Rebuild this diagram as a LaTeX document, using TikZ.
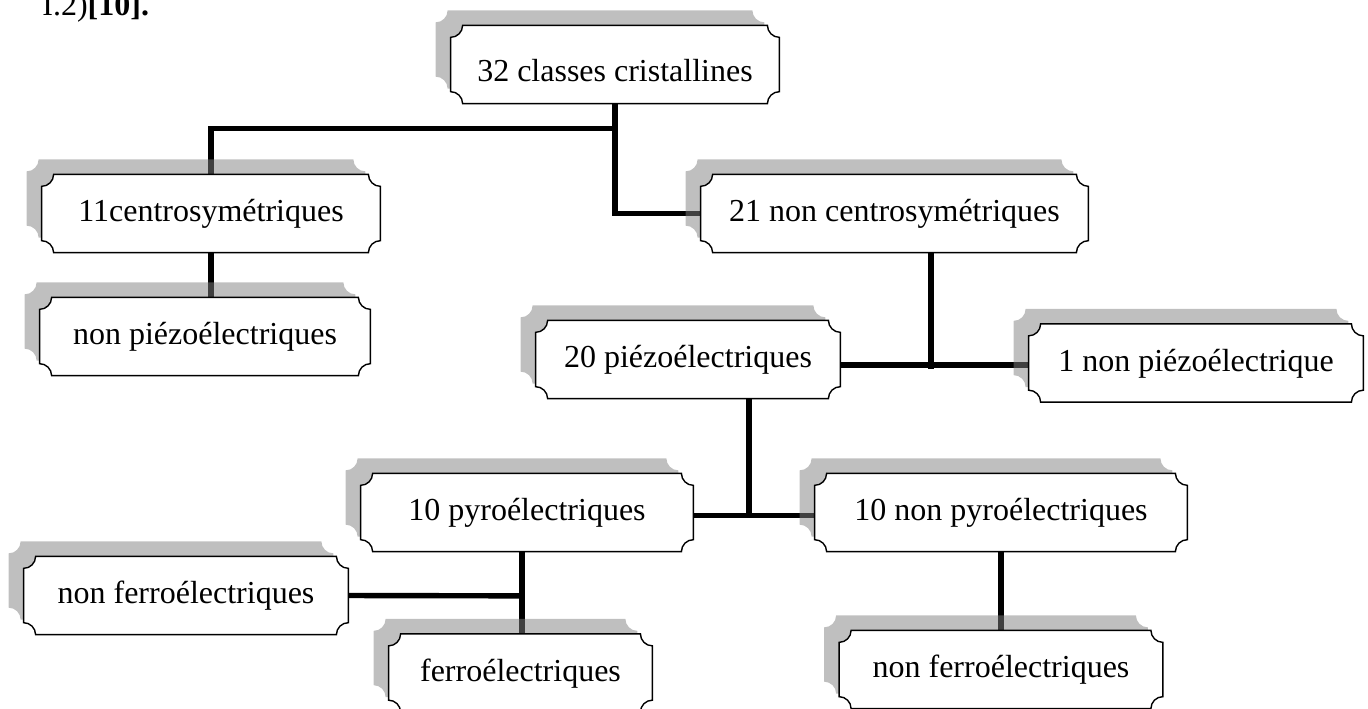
\documentclass[tikz,border=0pt]{standalone}
\usepackage{fontspec}
\setmainfont{Liberation Serif}
\usepackage{xcolor}
\usepackage{tikz}
\usetikzlibrary{positioning}
\pgfdeclarelayer{edges}
\pgfdeclarelayer{shadows}
\pgfdeclarelayer{plates}
\pgfsetlayers{edges,shadows,plates,main}
\tikzstyle{plaque} = [rectangle, minimum height=38.75pt, inner sep=0pt, text height=11pt, text depth=3pt, align=center, font=\fontsize{16pt}{19pt}\selectfont]
\tikzstyle{link} = [line width=2.7pt]
\tikzstyle{shadowfill} = [fill=black!50, fill opacity=0.5, transform canvas={shift={(-7.5pt,7.5pt)}}]
\tikzstyle{plate} = [fill=white, draw=black, line width=0.7pt]
% box with concave corners
\newcommand{\plaque}[1]{([xshift=6pt]#1.north west) -- ([xshift=-6pt]#1.north east) arc[start angle=180, end angle=270, radius=6pt] -- ([yshift=6pt]#1.south east) arc[start angle=90, end angle=180, radius=6pt] -- ([xshift=6pt]#1.south west) arc[start angle=0, end angle=90, radius=6pt] -- ([yshift=-6pt]#1.north west) arc[start angle=270, end angle=360, radius=6pt] -- cycle}

\begin{document}
\begin{tikzpicture}
    \useasboundingbox (0,0) rectangle (684pt,-354pt);
    \node(fig)[anchor=base west, inner sep=0pt, font=\fontsize{16pt}{19pt}\selectfont] at (21pt,-7.5pt) {I.2)\textbf{[10].}};

    \node(root)[plaque, minimum width=164pt, text height=20pt] at (307.5pt,-32.25pt) {32 classes cristallines};
    \node(centro)[plaque, minimum width=169pt, node distance=74.5pt, below of=root, xshift=-202pt] {11centrosymétriques};
    \node(nonpiezoA)[plaque, minimum width=165pt, node distance=61.5pt, below of=centro, xshift=-3pt] {non piézoélectriques};
    \node(noncentro)[plaque, minimum width=193.5pt, node distance=341.75pt, right of=centro] {21 non centrosymétriques};
    \node(piezo)[plaque, minimum width=152pt, node distance=73pt, below of=noncentro, xshift=-103.25pt] {20 piézoélectriques};
    \node(nonpiezoB)[plaque, minimum width=167pt, node distance=254pt, right of=piezo, yshift=-1.75pt] {1 non piézoélectrique};
    \node(pyro)[plaque, minimum width=166pt, node distance=76.5pt, below of=piezo, xshift=-80.5pt] {10 pyroélectriques};
    \node(nonpyro)[plaque, minimum width=186pt, node distance=237pt, right of=pyro] {10 non pyroélectriques};
    \node(nonferroA)[plaque, minimum width=162pt, node distance=41.5pt, below of=pyro, xshift=-170.5pt] {non ferroélectriques};
    \node(ferro)[plaque, minimum width=131.5pt, node distance=80.25pt, below of=pyro, xshift=-3.25pt] {ferroélectriques};
    \node(nonferroB)[plaque, minimum width=161.5pt, node distance=78.5pt, below of=nonpyro] {non ferroélectriques};

    \begin{pgfonlayer}{edges}
    \coordinate (j1) at ([yshift=-12.4pt]root.south);
    \coordinate (j2) at ([xshift=18.25pt, yshift=-56.1pt]noncentro.south);
    \coordinate (j3) at ([xshift=30.5pt, yshift=-58.5pt]piezo.south);
    \coordinate (j4) at ([xshift=-2.5pt, yshift=-22.1pt]pyro.south);
    \draw[link](root.south) -- (j1) -| (centro.north);
    \draw[link](j1) |- (noncentro.west);
    \draw[link](centro.south) -- (centro.south |- nonpiezoA.north);
    \draw[link](noncentro.south -| j2) -- ([yshift=-2pt]j2);
    \draw[link](piezo.east |- j2) -- (nonpiezoB.west |- j2);
    \draw[link](piezo.south -| j3) -- (j3);
    \draw[link](pyro.east |- j3) -- (nonpyro.west |- j3);
    \draw[link](pyro.south -| j4) -- (ferro.north -| j4);
    \draw[link](nonferroA.east) -- (j4);
    \draw[link](nonpyro) -- (nonferroB);
    \end{pgfonlayer}

    \begin{pgfonlayer}{shadows}
    \foreach \n in {root,centro,nonpiezoA,noncentro,piezo,nonpiezoB,pyro,nonpyro,nonferroA,ferro,nonferroB}
        \fill[shadowfill] \plaque{\n};
    \end{pgfonlayer}
    \begin{pgfonlayer}{plates}
    \foreach \n in {root,centro,nonpiezoA,noncentro,piezo,nonpiezoB,pyro,nonpyro,nonferroA,ferro,nonferroB}
        \filldraw[plate] \plaque{\n};
    \end{pgfonlayer}
\end{tikzpicture}
\end{document}
